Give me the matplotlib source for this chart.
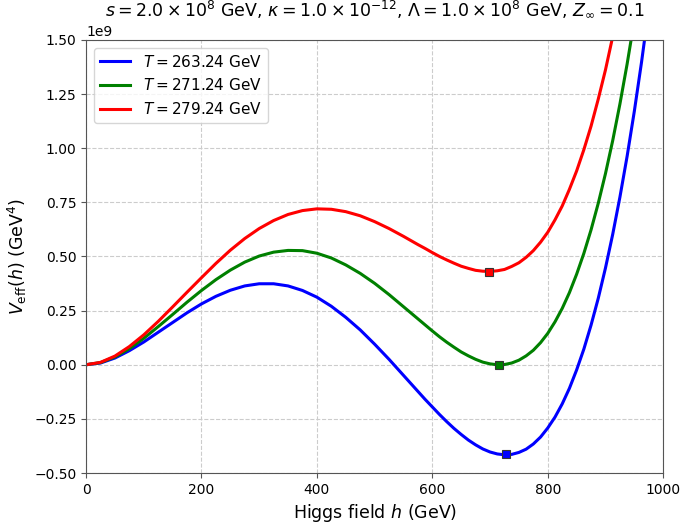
import numpy as np
import matplotlib
matplotlib.use('Agg')
import matplotlib.pyplot as plt

# Higgs field values (GeV) - finer steps where the curves bend sharply
h = [0, 25, 50, 75, 100, 125, 150, 175, 200, 225, 250, 275, 300, 325, 350, 375,
     400, 425, 450, 475, 500, 525, 550,
     562.5, 575, 587.5, 600, 612.5, 625, 637.5, 650, 662.5, 675, 687.5, 700,
     712.5, 725, 737.5, 750, 762.5, 775, 787.5, 800, 812.5, 825, 837.5, 850,
     862.5, 875, 887.5, 900, 912.5, 925, 937.5, 950, 962.5, 975, 987.5, 1000]

# V_eff, in units of 1e9 GeV^4
v_263 = [0.0, 0.008, 0.031, 0.065, 0.105, 0.150, 0.195, 0.240, 0.281, 0.316,
         0.344, 0.364, 0.374, 0.374, 0.364, 0.343, 0.312, 0.270, 0.219, 0.161,
         0.095, 0.025, -0.049,
         -0.086, -0.123, -0.160, -0.195, -0.230, -0.263, -0.294, -0.322, -0.348,
         -0.370, -0.389, -0.403, -0.412, -0.416, -0.414, -0.405, -0.390, -0.366,
         -0.334, -0.292, -0.242, -0.181, -0.109, -0.024, 0.072, 0.183, 0.307,
         0.447, 0.602, 0.774, 0.963, 1.171, 1.398, 1.646, 1.914, 2.205]
v_271 = [0.0, 0.010, 0.036, 0.074, 0.122, 0.176, 0.232, 0.289, 0.343, 0.393,
         0.437, 0.474, 0.502, 0.520, 0.528, 0.527, 0.515, 0.493, 0.461, 0.422,
         0.376, 0.324, 0.268,
         0.240, 0.212, 0.184, 0.156, 0.129, 0.104, 0.081, 0.059, 0.041, 0.025,
         0.012, 0.004, 0.000, 0.001, 0.008, 0.021, 0.041, 0.067, 0.102, 0.145,
         0.198, 0.260, 0.333, 0.418, 0.514, 0.623, 0.746, 0.883, 1.035, 1.204,
         1.389, 1.591, 1.813, 2.053, 2.315, 2.597]
v_279 = [0.0, 0.011, 0.040, 0.084, 0.138, 0.200, 0.267, 0.335, 0.402, 0.468,
         0.529, 0.583, 0.629, 0.666, 0.694, 0.712, 0.720, 0.718, 0.707, 0.688,
         0.661, 0.629, 0.593,
         0.574, 0.555, 0.537, 0.518, 0.500, 0.484, 0.469, 0.455, 0.445, 0.436,
         0.432, 0.431, 0.434, 0.440, 0.454, 0.471, 0.496, 0.527, 0.566, 0.612,
         0.669, 0.733, 0.810, 0.895, 0.993, 1.102, 1.227, 1.362, 1.515, 1.681,
         1.859, 2.058, 2.278, 2.515, 2.773, 3.050]

labels = ['$T = 263.24$ GeV', '$T = 271.24$ GeV', '$T = 279.24$ GeV']
colors = ['blue', 'green', 'red']

# minima markers
min_h = [727, 716, 698]
min_v = [-0.41, 0.0, 0.43]

fig = plt.figure(figsize=(6.83, 5.23), dpi=100)
ax = fig.add_axes([0.126, 0.0956, 0.845, 0.828])

for vals, lab, col, mh, mv in zip([v_263, v_271, v_279], labels, colors, min_h, min_v):
    ax.plot(h, np.array(vals) * 1e9, color=col, lw=2.2, label=lab)
    ax.plot(mh, mv * 1e9, 's', color=col, ms=5.5, mec='#333333', mew=0.8)

ax.set_xlim(0, 1000)
ax.set_ylim(-0.5e9, 1.5e9)
ax.set_yticks(np.arange(-0.5, 1.51, 0.25) * 1e9)
ax.grid(True, ls='--', color='#cccccc', lw=0.8)
for sp in ax.spines.values():
    sp.set_color('#555555')
ax.tick_params(labelsize=10, color='#555555')
ax.yaxis.get_offset_text().set_fontsize(10)
ax.set_xlabel('Higgs field $h$ (GeV)', fontsize=12.5)
ax.set_ylabel(r'$V_{\rm eff}(h)$ (GeV$^4$)', fontsize=12.5)
ax.set_title(r'$s = 2.0 \times 10^{8}$ GeV, $\kappa = 1.0 \times 10^{-12}$, '
             r'$\Lambda = 1.0 \times 10^{8}$ GeV, $Z_{\infty} = 0.1$', fontsize=12.5)
ax.legend(loc='upper left', fontsize=11)

plt.savefig('out.png', dpi=100)
